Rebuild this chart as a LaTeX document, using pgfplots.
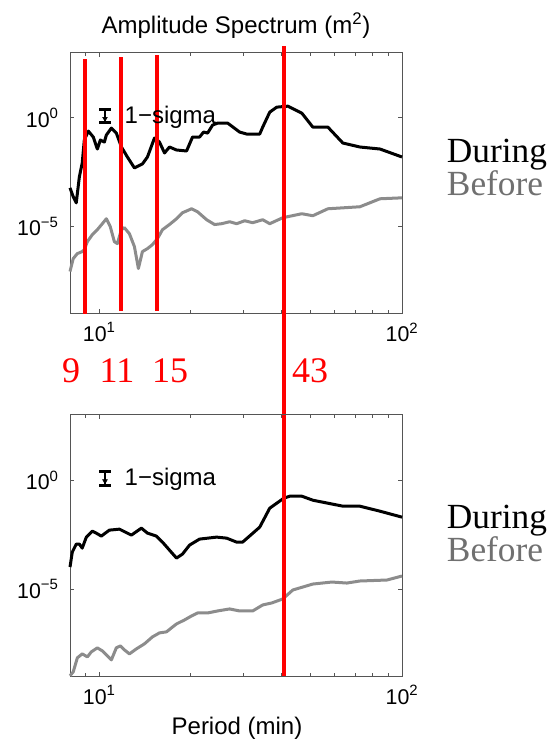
\documentclass[border=0pt]{standalone}
\usepackage{fontspec}
\setmainfont{Liberation Sans}
\newfontfamily\seriffont{Liberation Serif}
\usepackage{pgfplots}
\pgfplotsset{compat=1.18}
\definecolor{axgray}{RGB}{85,85,85}
\definecolor{curvegray}{RGB}{140,140,140}
\definecolor{beforegray}{RGB}{112,112,112}
\definecolor{myred}{RGB}{255,0,0}
\tikzset{
  mydur/.style={black, line width=2.25pt, line join=round},
  mybef/.style={curvegray, line width=2.25pt, line join=round},
  myredl/.style={myred, line width=3pt},
  mysig/.style={black, line width=1.5pt},
  mycap/.style={black, line width=2.2pt},
}
\begin{document}
\begin{tikzpicture}
\useasboundingbox (0,0) rectangle (419.25pt,557.25pt);
% ---------------- top panel ----------------
\begin{axis}[
    xmode=log, ymode=log,
    scale only axis,
    width=249pt, height=195.45pt,
    at={(52.5pt,322.3pt)}, anchor=south west,
    xmin=8, xmax=100, ymin=1e-9, ymax=1e3,
    xtick={10,100}, xticklabels={10\textsuperscript{1},10\textsuperscript{2}},
    minor xtick={9,20,30,40,50,60,70,80,90},
    ytick={1e-5,1}, yticklabels={10\textsuperscript{−5},10\textsuperscript{0}},
    yminorticks=false,
    tick align=inside,
    major tick length=3pt, minor tick length=2.25pt,
    axis line style={axgray, line width=0.75pt},
    tick style={axgray, line width=0.6pt},
    tick label style={font=\fontsize{16}{18}\selectfont},
    xticklabel style={yshift=-3.5pt},
    yticklabel style={xshift=-5pt},
    clip=false,
]
\addplot[mybef] coordinates {
(8.0,8.36e-8) (8.20,3.30e-7) (8.46,5.60e-7) (8.78,6.91e-7) (8.92,8.53e-7)
(9.13,1.99e-6) (9.48,4.16e-6) (9.85,7.06e-6) (10.23,1.33e-5) (10.55,2.25e-5)
(10.87,9.68e-6) (11.21,1.99e-6) (11.47,1.61e-6) (11.83,7.06e-6) (12.10,8.71e-6)
(12.57,4.62e-6) (13.06,1.17e-6) (13.46,1.15e-7) (13.88,6.91e-7) (14.42,9.48e-7)
(14.98,1.45e-6) (15.56,2.73e-6) (16.17,7.06e-6) (17.05,1.22e-5) (17.99,2.25e-5)
(18.83,4.25e-5) (20.17,6.48e-5) (21.11,4.72e-5) (22.62,2.03e-5) (24.03,1.22e-5)
(25.35,1.33e-5) (26.95,1.64e-5) (28.42,1.33e-5) (30.21,1.82e-5) (32.11,1.48e-5)
(34.66,2.03e-5) (36.56,1.33e-5) (40.36,2.51e-5) (46.67,3.83e-5) (50.74,3.10e-5)
(56.89,6.48e-5) (72.59,8.02e-5) (84.57,1.87e-4) (100,2.07e-4)
};
\addplot[mydur] coordinates {
(8.0,5.96e-4) (8.20,2.30e-4) (8.39,1.22e-4) (8.59,1.91e-3) (8.78,8.36e-3)
(8.92,0.0948) (9.20,0.245) (9.55,0.130) (9.85,0.0366) (10.08,0.0948)
(10.39,0.0768) (10.55,0.161) (10.96,0.337) (11.38,0.199) (11.83,0.0453)
(12.38,0.0157) (13.06,4.93e-3) (13.88,7.52e-3) (14.42,0.0157) (15.21,0.117)
(15.80,0.0768) (16.42,0.0240) (17.05,0.0453) (17.99,0.0330) (19.42,0.0297)
(20.32,0.130) (21.44,0.130) (22.10,0.221) (22.79,0.199) (23.67,0.463)
(24.59,0.571) (26.54,0.571) (29.08,0.221) (30.68,0.179) (33.88,0.179)
(34.66,0.374) (36.56,1.82) (38.56,3.10) (41.93,3.44) (46.67,1.64)
(50.74,0.374) (56.89,0.374) (63.77,0.0691) (72.59,0.0453) (84.57,0.0366)
(100,0.0157)
};
\addplot[myredl] coordinates {(9.0,490) (9.0,8.9e-10)};
\addplot[myredl] coordinates {(11.8,610) (11.8,1.26e-9)};
\addplot[myredl] coordinates {(15.5,750) (15.5,1.26e-9)};
\addplot[myredl] coordinates {(40.67,2000) (40.67,2.3e-26)};
% 1-sigma symbol
\addplot[mysig] coordinates {(10.44,2.51) (10.44,0.602)};
\addplot[mycap] coordinates {(9.98,2.51) (10.93,2.51)};
\addplot[mycap] coordinates {(9.98,0.602) (10.93,0.602)};
\addplot[black, only marks, mark=triangle*, mark size=2pt, mark options={rotate=180}] coordinates {(10.44,0.918)};
\node[anchor=base west, inner sep=0pt, font=\fontsize{18}{20}\selectfont] at (axis cs:12.1,0.553) {1−sigma};
\end{axis}
% ---------------- bottom panel ----------------
\begin{axis}[
    xmode=log, ymode=log,
    scale only axis,
    width=249pt, height=195.75pt,
    at={(52.5pt,50.25pt)}, anchor=south west,
    xmin=8, xmax=100, ymin=1e-9, ymax=1e3,
    xtick={10,100}, xticklabels={10\textsuperscript{1},10\textsuperscript{2}},
    minor xtick={9,20,30,40,50,60,70,80,90},
    ytick={1e-5,1}, yticklabels={10\textsuperscript{−5},10\textsuperscript{0}},
    yminorticks=false,
    tick align=inside,
    major tick length=3pt, minor tick length=2.25pt,
    axis line style={axgray, line width=0.75pt},
    tick style={axgray, line width=0.6pt},
    tick label style={font=\fontsize{16}{18}\selectfont},
    xticklabel style={yshift=-3.5pt},
    yticklabel style={xshift=-5pt},
    clip=false,
]
\addplot[mybef] coordinates {
(8.0,1.02e-9) (8.20,1.56e-9) (8.46,6.84e-9) (8.78,1.04e-8) (9.13,7.60e-9)
(9.41,1.29e-8) (9.85,1.97e-8) (10.23,1.43e-8) (10.55,9.38e-9) (10.96,5.53e-9)
(11.38,1.97e-8) (11.74,2.43e-8) (12.10,1.59e-8) (12.57,1.04e-8) (13.26,1.77e-8)
(14.09,3.00e-8) (14.98,6.28e-8) (15.80,9.59e-8) (16.67,1.07e-7) (17.31,1.63e-7)
(17.99,2.48e-7) (19.12,3.78e-7) (20.17,5.77e-7) (21.11,7.92e-7) (22.79,7.92e-7)
(24.59,9.79e-7) (26.95,1.21e-6) (29.08,9.79e-7) (32.11,9.79e-7) (34.66,1.85e-6)
(37.12,2.28e-6) (40.36,3.48e-6) (43.57,9.00e-6) (50.74,1.69e-5) (58.65,2.09e-5)
(65.75,1.88e-5) (72.59,2.33e-5) (89.19,2.59e-5) (100,3.95e-5)
};
\addplot[mydur] coordinates {
(8.0,1.02e-4) (8.14,4.98e-4) (8.39,1.16e-3) (8.59,1.16e-3) (8.78,7.60e-4)
(9.06,2.43e-3) (9.48,4.58e-3) (9.77,3.71e-3) (10.15,2.70e-3) (10.79,5.08e-3)
(11.65,5.65e-3) (12.19,4.12e-3) (12.76,3.00e-3) (13.77,6.28e-3) (14.42,3.71e-3)
(15.44,2.70e-3) (16.17,1.43e-3) (17.05,6.15e-4) (17.99,2.64e-4) (18.83,4.03e-4)
(19.86,1.04e-3) (21.44,1.97e-3) (24.40,2.43e-3) (26.34,2.18e-3) (28.42,1.43e-3)
(29.75,1.43e-3) (33.88,6.98e-3) (36.56,0.0520) (40.67,0.149) (42.58,0.185)
(46.67,0.185) (50.74,0.121) (56.89,0.0881) (63.77,0.0642) (72.59,0.0642)
(84.57,0.0378) (100,0.0201)
};
\addplot[myredl] coordinates {(40.67,1e3) (40.67,1e-9)};
% 1-sigma symbol
\addplot[mysig] coordinates {(10.44,2.51) (10.44,0.602)};
\addplot[mycap] coordinates {(9.98,2.51) (10.93,2.51)};
\addplot[mycap] coordinates {(9.98,0.602) (10.93,0.602)};
\addplot[black, only marks, mark=triangle*, mark size=2pt, mark options={rotate=180}] coordinates {(10.44,0.918)};
\node[anchor=base west, inner sep=0pt, font=\fontsize{18}{20}\selectfont] at (axis cs:12.1,0.553) {1−sigma};
\end{axis}
% ---------------- texts ----------------
\node[anchor=base, inner sep=0pt, font=\fontsize{18}{20}\selectfont] at (177pt,532.3pt) {Amplitude Spectrum (m\textsuperscript{2})};
\node[anchor=base, inner sep=0pt, font=\fontsize{18}{20}\selectfont] at (177.75pt,6pt) {Period (min)};
\begin{scope}[every node/.style={anchor=base, inner sep=0pt, text=myred, font=\seriffont\fontsize{27}{30}\selectfont}]
\node at (53.25pt,270pt) {9};
\node at (87.75pt,270pt) {11};
\node at (127.5pt,270pt) {15};
\node at (232.5pt,270pt) {43};
\end{scope}
\begin{scope}[every node/.style={anchor=base west, inner sep=0pt, font=\seriffont\fontsize{26.5}{30}\selectfont}]
\node at (335pt,435.2pt) {During};
\node[text=beforegray] at (335pt,410.5pt) {Before};
\node at (335pt,160.5pt) {During};
\node[text=beforegray] at (335pt,135.75pt) {Before};
\end{scope}
\end{tikzpicture}
\end{document}
